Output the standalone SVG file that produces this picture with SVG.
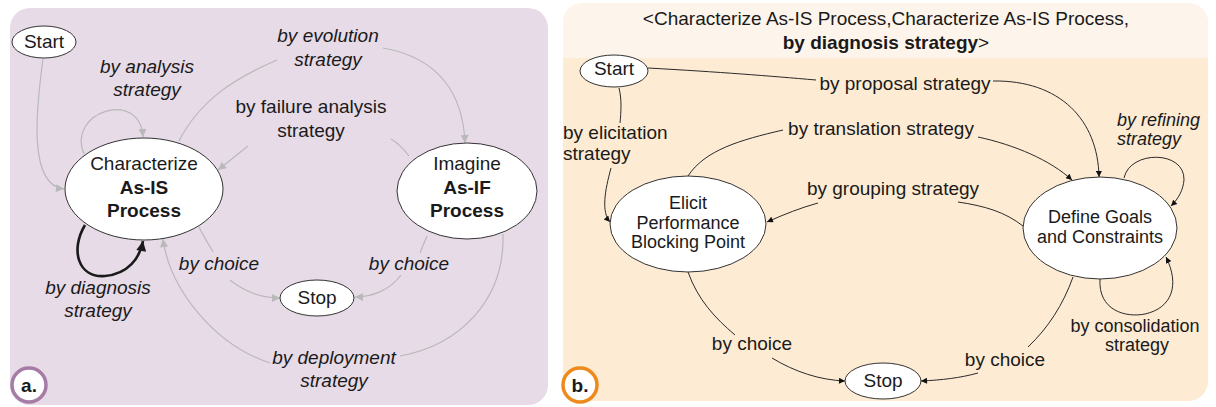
<svg xmlns="http://www.w3.org/2000/svg" width="1216" height="407" viewBox="0 0 1216 407">
<style>
text{font-family:"Liberation Sans",Arial,sans-serif;font-size:19px;fill:#1a1a1a;text-anchor:middle}
.it{font-style:italic}
.b{font-weight:bold}
.sm{font-size:18px}
.node{fill:#fff;stroke:#333;stroke-width:1}
.eg{fill:none;stroke:#b9b9b9;stroke-width:1.2}
.ek{fill:none;stroke:#2a2a2a;stroke-width:1}
.ed{fill:none;stroke:#1a1a1a;stroke-width:2.6}
</style>
<defs>
<marker id="ag" viewBox="0 0 10 10" refX="10" refY="5" markerWidth="11" markerHeight="8" markerUnits="userSpaceOnUse" orient="auto"><path d="M0,0 L10,5 L0,10 z" fill="#b9b9b9"/></marker>
<marker id="ak" viewBox="0 0 10 10" refX="10" refY="5" markerWidth="10" markerHeight="6" markerUnits="userSpaceOnUse" orient="auto"><path d="M0,0 L10,5 L0,10 z" fill="#111"/></marker>
<marker id="ad" viewBox="0 0 10 10" refX="10" refY="5" markerWidth="13" markerHeight="10" markerUnits="userSpaceOnUse" orient="auto"><path d="M0,0 L10,5 L0,10 z" fill="#1a1a1a"/></marker>
</defs>

<g id="panel-a">
<rect x="10" y="8" width="538" height="397" rx="20" fill="#e7dbe7"/>
</g>
<g id="panel-b">
<rect x="563" y="3" width="645" height="398" rx="20" fill="#fdebd3"/>
<path d="M563 58 V23 A20 20 0 0 1 583 3 H1188 A20 20 0 0 1 1208 23 V58 Z" fill="#fdf5ec"/>
<text x="886" y="25">&lt;Characterize As-IS Process,Characterize As-IS Process,</text>
<text x="886" y="49"><tspan class="b">by diagnosis strategy</tspan>&gt;</text>
</g>

<g id="connectors">
<!-- panel a -->
<path class="eg" d="M43 59 C36 110 28 185 64 189" marker-end="url(#ag)"/>
<path class="eg" d="M84 154 C66 112 140 88 143 137" marker-end="url(#ag)"/>
<path class="eg" d="M179 141 C200 100 235 78 277 60"/>
<path class="eg" d="M383 48 C440 58 463 95 465 143" marker-end="url(#ag)"/>
<path class="eg" d="M409 156 C403 148 398 143 391 139"/>
<path class="eg" d="M248 146 C238 154 228 162 218 170" marker-end="url(#ag)"/>
<path class="ed" d="M85 225 C70 250 78 278 105 276 C128 274 140 258 143 241" marker-end="url(#ad)"/>
<path class="eg" d="M199 227 C204 237 209 245 213 252"/>
<path class="eg" d="M230 280 C245 292 262 298 280 298" marker-end="url(#ag)"/>
<path class="eg" d="M427 236 C424 243 422 248 420 253"/>
<path class="eg" d="M401 275 C390 290 372 297 355 297" marker-end="url(#ag)"/>
<path class="eg" d="M503 234 C505 300 460 345 400 356"/>
<path class="eg" d="M270 363 C215 345 170 290 163 239" marker-end="url(#ag)"/>
<!-- panel b -->
<path class="ek" d="M648 68 C720 72 770 76 816 80"/>
<path class="ek" d="M993 81 C1060 80 1098 120 1099 177" marker-end="url(#ak)"/>
<path class="ek" d="M619 88 C622 100 621 112 620 123"/>
<path class="ek" d="M611 168 C605 190 601 212 610 222" marker-end="url(#ak)"/>
<path class="ek" d="M688 176 C705 150 740 140 783 130"/>
<path class="ek" d="M978 137 C1015 145 1050 160 1072 180" marker-end="url(#ak)"/>
<path class="ek" d="M1023 226 C1005 212 985 206 958 202"/>
<path class="ek" d="M818 203 C800 208 785 214 767 222" marker-end="url(#ak)"/>
<path class="ek" d="M1124 178 C1130 150 1185 150 1184 180 C1183 190 1179 198 1171 206" marker-end="url(#ak)"/>
<path class="ek" d="M1100 279 C1098 310 1125 318 1145 314 C1172 308 1180 285 1166 257" marker-end="url(#ak)"/>
<path class="ek" d="M688 272 C698 300 715 318 735 335"/>
<path class="ek" d="M772 358 C795 372 820 380 845 381" marker-end="url(#ak)"/>
<path class="ek" d="M1073 277 C1063 305 1048 328 1028 347"/>
<path class="ek" d="M978 373 C960 378 942 380 921 381" marker-end="url(#ak)"/>
</g>

<g id="labels-a">
<text class="it" x="147" y="73">by analysis</text>
<text class="it" x="147" y="96">strategy</text>
<text class="it" x="328" y="42">by evolution</text>
<text class="it" x="328" y="66">strategy</text>
<text x="311" y="113">by failure analysis</text>
<text x="311" y="137">strategy</text>
<text class="it" x="219" y="270">by choice</text>
<text class="it" x="409" y="270">by choice</text>
<text class="it" x="98" y="294">by diagnosis</text>
<text class="it" x="98" y="317">strategy</text>
<text class="it" x="334" y="364">by deployment</text>
<text class="it" x="334" y="387">strategy</text>
</g>
<g id="labels-b">
<text x="905" y="90">by proposal strategy</text>
<text x="563" y="139" style="text-anchor:start">by elicitation</text>
<text x="563" y="160" style="text-anchor:start">strategy</text>
<text x="881" y="135">by translation strategy</text>
<text x="893" y="195">by grouping strategy</text>
<text class="it sm" x="1117" y="126" style="text-anchor:start">by refining</text>
<text class="it sm" x="1117" y="145" style="text-anchor:start">strategy</text>
<text class="sm" x="1135" y="332">by consolidation</text>
<text class="sm" x="1137" y="351">strategy</text>
<text x="752" y="350">by choice</text>
<text x="1005" y="366">by choice</text>
</g>

<g id="a-start"><ellipse class="node" cx="44" cy="42" rx="32" ry="16"/><text x="44" y="48">Start</text></g>
<g id="a-characterize"><ellipse class="node" cx="144" cy="189" rx="79" ry="51"/>
<text x="144" y="170">Characterize</text><text class="b" x="144" y="194">As-IS</text><text class="b" x="144" y="217">Process</text></g>
<g id="a-imagine"><ellipse class="node" cx="467" cy="191" rx="70" ry="48"/>
<text x="467" y="170">Imagine</text><text class="b" x="467" y="194">As-IF</text><text class="b" x="467" y="217">Process</text></g>
<g id="a-stop"><ellipse class="node" cx="317" cy="298" rx="37" ry="18"/><text x="317" y="304">Stop</text></g>
<g id="a-tag"><circle cx="29" cy="385" r="17" fill="#fff" stroke="#a57ca5" stroke-width="3.5"/><text class="b" x="29" y="392">a.</text></g>

<g id="b-start"><ellipse class="node" cx="614" cy="71" rx="34" ry="16"/><text x="614" y="75">Start</text></g>
<g id="b-elicit"><ellipse class="node" cx="688" cy="224" rx="78" ry="48"/>
<text class="sm" x="688" y="209">Elicit</text><text class="sm" x="688" y="229">Performance</text><text class="sm" x="688" y="248">Blocking Point</text></g>
<g id="b-define"><ellipse class="node" cx="1100" cy="228" rx="77" ry="51"/>
<text class="sm" x="1100" y="223">Define Goals</text><text class="sm" x="1100" y="243">and Constraints</text></g>
<g id="b-stop"><ellipse class="node" cx="883" cy="381" rx="38" ry="18"/><text x="883" y="387">Stop</text></g>
<g id="b-tag"><circle cx="580" cy="385" r="17" fill="#fff" stroke="#ee8a1c" stroke-width="3.5"/><text class="b" x="580" y="392">b.</text></g>
</svg>
